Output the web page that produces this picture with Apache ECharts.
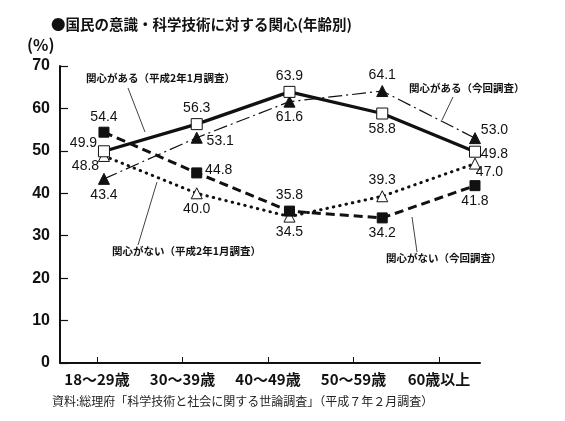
<!DOCTYPE html>
<html>
<head>
<meta charset="utf-8">
<script src="https://cdn.jsdelivr.net/npm/echarts@6/dist/echarts.min.js"></script>
<style>
  html, body { margin: 0; padding: 0; background: #fff; }
  #main { width: 565px; height: 421px; }
</style>
</head>
<body>
<div id="main"></div>
<script>
// 年齢区分
const categories = ["18～29歳", "30～39歳", "40～49歳", "50～59歳", "60歳以上"];
// 関心がある（平成2年1月調査）
const interestOld = [49.9, 56.3, 63.9, 58.8, 49.8];
// 関心がある（今回調査）
const interestNow = [43.4, 53.1, 61.6, 64.1, 53.0];
// 関心がない（平成2年1月調査）
const noInterestOld = [48.8, 40.0, 34.5, 39.3, 47.0];
// 関心がない（今回調査）
const noInterestNow = [54.4, 44.8, 35.8, 34.2, 41.8];
const yTicks = [0, 10, 20, 30, 40, 50, 60, 70];

// ラベル位置（マーカー中心からのずれ、または方向）
const posA = [[-20, -8], "top", "top", "bottom", [20, 3]];
const posB = ["bottom", [24, 4], "bottom", "top", [20, -7]];
const posC = [[-18, 11], "bottom", "bottom", "top", [15, 9]];
const posD = ["top", [22, -3], "top", "bottom", "bottom"];

const font = "Liberation Sans, Arial, sans-serif";
const jp = "Noto Sans CJK JP";
const SYM = 11;

// 原図ではマーカーが目盛りより右へずれているので、系列は別の軸に載せる
const withLabels = (vals, pos) =>
  vals.map((v, i) => {
    const p = pos[i];
    const label = Array.isArray(p)
      ? { position: [p[0] + SYM / 2, p[1] + SYM / 2], align: "center", verticalAlign: "middle" }
      : { position: p, distance: 3 };
    return { value: [i, v], label: label };
  });

const baseLabel = {
  show: true,
  color: "#111",
  fontSize: 14,
  fontFamily: font,
  formatter: (p) => p.value[1].toFixed(1),
};

const chart = echarts.init(document.getElementById("main"));
const option = {
  backgroundColor: "#fff",
  animation: false,
  grid: [
    { left: 60, right: 85, top: 66, bottom: 58 },
    { left: 97, right: 126, top: 66, bottom: 58 },
  ],
  xAxis: [
    {
      // 系列用（線だけ表示）
      type: "value",
      gridIndex: 0,
      min: -0.474,
      max: 4.054,
      splitLine: { show: false },
      axisLine: { show: true, onZero: false, lineStyle: { color: "#111", width: 2 } },
      axisTick: { show: false },
      axisLabel: { show: false },
    },
    {
      // 目盛りとラベル用
      type: "category",
      gridIndex: 1,
      data: categories,
      boundaryGap: false,
      axisLine: { show: false },
      axisTick: { show: true, inside: true, length: 6, lineStyle: { color: "#111", width: 1 } },
      axisLabel: { interval: 0, color: "#111", fontSize: 15, fontWeight: "bold", fontFamily: jp, margin: 9 },
    },
  ],
  yAxis: [
    {
      type: "value",
      gridIndex: 0,
      min: yTicks[0],
      max: yTicks[yTicks.length - 1],
      interval: 10,
      splitLine: { show: false },
      axisLine: { show: true, onZero: false, lineStyle: { color: "#111", width: 2 } },
      axisTick: { show: true, inside: true, length: 8, lineStyle: { color: "#111", width: 1.2 } },
      axisLabel: { color: "#111", fontSize: 16, fontWeight: "bold", fontFamily: font, margin: 10 },
    },
    {
      type: "value",
      gridIndex: 1,
      min: yTicks[0],
      max: yTicks[yTicks.length - 1],
      show: false,
    },
  ],
  graphic: [
    { type: "text", left: 51, top: 17, style: { text: "●国民の意識・科学技術に対する関心(年齢別)", font: "bold 14.5px " + jp, fill: "#111" } },
    { type: "text", left: 27, top: 37, style: { text: "(%)", font: "bold 16px " + jp, fill: "#111" } },
    // 注記
    { type: "text", left: 86, top: 73, style: { text: "関心がある（平成2年1月調査）", font: "bold 10.5px " + jp, fill: "#111" } },
    { type: "line", shape: { x1: 128, y1: 88, x2: 145, y2: 132 }, style: { stroke: "#111", lineWidth: 0.8 } },
    { type: "text", left: 409, top: 83, style: { text: "関心がある（今回調査）", font: "bold 10.5px " + jp, fill: "#111" } },
    { type: "line", shape: { x1: 453, y1: 97, x2: 442, y2: 120 }, style: { stroke: "#111", lineWidth: 0.8 } },
    { type: "text", left: 112, top: 246, style: { text: "関心がない（平成2年1月調査）", font: "bold 10.5px " + jp, fill: "#111" } },
    { type: "line", shape: { x1: 138, y1: 245, x2: 157, y2: 182 }, style: { stroke: "#111", lineWidth: 0.8 } },
    { type: "text", left: 386, top: 253, style: { text: "関心がない（今回調査）", font: "bold 10.5px " + jp, fill: "#111" } },
    { type: "line", shape: { x1: 417, y1: 252, x2: 412, y2: 217 }, style: { stroke: "#111", lineWidth: 0.8 } },
    { type: "text", left: 52, top: 395, style: { text: "資料:総理府「科学技術と社会に関する世論調査」（平成７年２月調査）", font: "12px " + jp, fill: "#222" } },
  ],
  series: [
    {
      name: "関心がない（平成2年1月調査）",
      type: "line",
      xAxisIndex: 0,
      yAxisIndex: 0,
      data: withLabels(noInterestOld, posC),
      symbol: "triangle",
      symbolSize: SYM,
      itemStyle: { color: "#fff", borderColor: "#111", borderWidth: 1 },
      lineStyle: { color: "#111", width: 3, type: [0.5, 6], cap: "round" },
      label: baseLabel,
      z: 2,
    },
    {
      name: "関心がない（今回調査）",
      type: "line",
      xAxisIndex: 0,
      yAxisIndex: 0,
      data: withLabels(noInterestNow, posD),
      symbol: "rect",
      symbolSize: SYM - 1,
      itemStyle: { color: "#111", borderColor: "#111", borderWidth: 1 },
      lineStyle: { color: "#111", width: 3, type: [9, 5] },
      label: baseLabel,
      z: 3,
    },
    {
      name: "関心がある（今回調査）",
      type: "line",
      xAxisIndex: 0,
      yAxisIndex: 0,
      data: withLabels(interestNow, posB),
      symbol: "triangle",
      symbolSize: SYM,
      itemStyle: { color: "#111", borderColor: "#111", borderWidth: 1 },
      lineStyle: { color: "#111", width: 1.2, type: [14, 4, 2, 4] },
      label: baseLabel,
      z: 4,
    },
    {
      name: "関心がある（平成2年1月調査）",
      type: "line",
      xAxisIndex: 0,
      yAxisIndex: 0,
      data: withLabels(interestOld, posA),
      symbol: "rect",
      symbolSize: SYM,
      itemStyle: { color: "#fff", borderColor: "#111", borderWidth: 1 },
      lineStyle: { color: "#111", width: 3.2 },
      label: baseLabel,
      z: 5,
    },
  ],
};
chart.setOption(option);
</script>
</body>
</html>
